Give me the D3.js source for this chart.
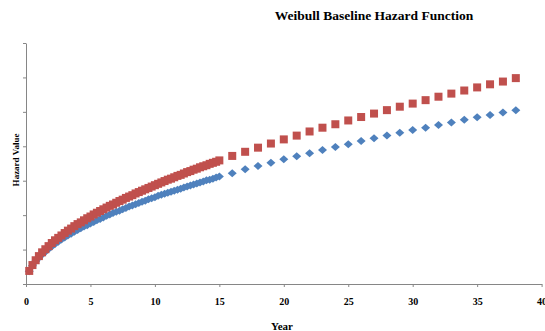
<!DOCTYPE html>
<html>
<head>
<meta charset="utf-8">
<script src="https://cdn.jsdelivr.net/npm/d3@7"></script>
<style>
  html, body { margin: 0; padding: 0; background: #ffffff; }
  svg { display: block; }
  text { font-family: "Liberation Serif", "Times New Roman", serif; font-weight: bold; fill: #000; }
</style>
</head>
<body>
<svg id="chart" width="545" height="331"></svg>
<script>
// ---- Data ----
const chartTitle = "Weibull Baseline Hazard Function";
const xLabel = "Year";
const yLabel = "Hazard Value";

// dense part: years 0.25 .. 15 in steps of 0.25
const denseYears = [
  0.25,0.5,0.75,1,1.25,1.5,1.75,2,2.25,2.5,2.75,3,3.25,3.5,3.75,4,4.25,4.5,4.75,5,
  5.25,5.5,5.75,6,6.25,6.5,6.75,7,7.25,7.5,7.75,8,8.25,8.5,8.75,9,9.25,9.5,9.75,10,
  10.25,10.5,10.75,11,11.25,11.5,11.75,12,12.25,12.5,12.75,13,13.25,13.5,13.75,14,14.25,14.5,14.75,15
];
const denseRed = [
  0.38,0.55,0.69,0.81,0.92,1.01,1.10,1.19,1.27,1.34,1.41,1.48,1.55,1.61,1.68,1.74,1.79,1.85,1.91,1.96,
  2.02,2.07,2.12,2.17,2.22,2.27,2.31,2.36,2.41,2.45,2.50,2.54,2.58,2.63,2.67,2.71,2.75,2.79,2.83,2.87,
  2.91,2.95,2.99,3.03,3.06,3.10,3.14,3.17,3.21,3.25,3.28,3.32,3.35,3.39,3.42,3.45,3.49,3.52,3.55,3.59
];
const denseBlue = [
  0.37,0.53,0.66,0.76,0.86,0.94,1.02,1.09,1.16,1.23,1.29,1.35,1.41,1.46,1.52,1.57,1.62,1.67,1.71,1.76,
  1.80,1.85,1.89,1.93,1.98,2.02,2.06,2.10,2.13,2.17,2.21,2.25,2.28,2.32,2.35,2.39,2.42,2.46,2.49,2.52,
  2.56,2.59,2.62,2.65,2.68,2.71,2.74,2.77,2.80,2.83,2.86,2.89,2.92,2.95,2.98,3.01,3.03,3.06,3.09,3.12
];

// sparse part: whole years 16 .. 38
const sparseYears = [16,17,18,19,20,21,22,23,24,25,26,27,28,29,30,31,32,33,34,35,36,37,38];
const sparseRed = [3.72,3.84,3.96,4.08,4.20,4.31,4.43,4.54,4.64,4.75,4.85,4.95,5.05,5.15,5.24,5.34,5.44,5.53,5.62,5.71,5.80,5.88,5.98];
const sparseBlue = [3.22,3.33,3.43,3.52,3.62,3.71,3.80,3.89,3.98,4.06,4.15,4.23,4.31,4.39,4.47,4.54,4.62,4.69,4.77,4.84,4.91,4.98,5.05];

const xTicks = [0,5,10,15,20,25,30,35,40];
const yTicks = [0,1,2,3,4,5,6,7];

// ---- Build series ----
const years = denseYears.concat(sparseYears);
const blueVals = denseBlue.concat(sparseBlue);
const redVals = denseRed.concat(sparseRed);
const blueData = years.map((t, i) => ({ x: t, y: blueVals[i] }));
const redData = years.map((t, i) => ({ x: t, y: redVals[i] }));

// ---- Layout ----
const svg = d3.select("#chart");
const plotLeft = 26, plotRight = 541.6, plotTop = 43, plotBottom = 284;
const x = d3.scaleLinear().domain([0, 40]).range([plotLeft, plotRight]);
const y = d3.scaleLinear().domain([0, 7]).range([plotBottom, plotTop]);
const axisColor = "#868686";

// Title
svg.append("text")
  .attr("x", 374).attr("y", 20)
  .attr("text-anchor", "middle")
  .style("font-size", "13.5px")
  .text(chartTitle);

// X axis
const gx = svg.append("g")
  .attr("transform", `translate(0,${plotBottom})`)
  .call(d3.axisBottom(x).tickValues(xTicks).tickSize(3).tickPadding(11).tickSizeOuter(0));
gx.select(".domain").attr("stroke", axisColor);
gx.selectAll(".tick line").attr("stroke", axisColor);
gx.selectAll(".tick text").style("font-size", "10px").style("font-family", "Liberation Serif, serif").style("font-weight", "bold").attr("fill", "#000");

// Y axis (no labels)
const gy = svg.append("g")
  .attr("transform", `translate(${plotLeft},0)`)
  .call(d3.axisLeft(y).tickValues(yTicks).tickSize(3).tickFormat("").tickSizeOuter(0));
gy.select(".domain").attr("stroke", axisColor);
gy.selectAll(".tick line").attr("stroke", axisColor);

// Axis titles
svg.append("text")
  .attr("x", 282).attr("y", 330)
  .attr("text-anchor", "middle")
  .style("font-size", "11px")
  .text(xLabel);

svg.append("text")
  .attr("transform", "translate(19,160) rotate(-90)")
  .attr("text-anchor", "middle")
  .style("font-size", "9px")
  .text(yLabel);

// Blue diamonds (series 1)
svg.append("g").selectAll("path")
  .data(blueData)
  .join("path")
  .attr("d", "M0,-4L4.5,0L0,4L-4.5,0Z")
  .attr("transform", d => `translate(${x(d.x)},${y(d.y)})`)
  .attr("fill", "#4F81BD");

// Red squares (series 2)
svg.append("g").selectAll("rect")
  .data(redData)
  .join("rect")
  .attr("x", d => x(d.x) - 4)
  .attr("y", d => y(d.y) - 4)
  .attr("width", 8)
  .attr("height", 8)
  .attr("fill", "#C0504D");
</script>
</body>
</html>
